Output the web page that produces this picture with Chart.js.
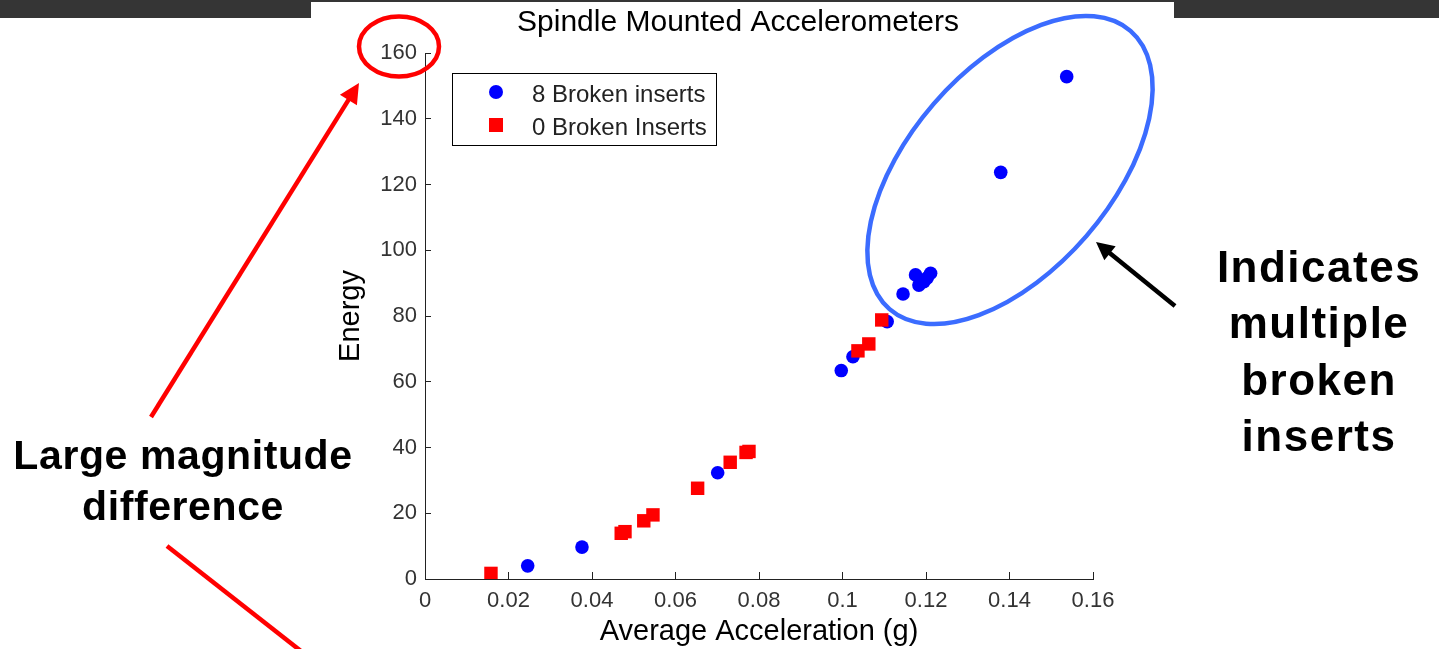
<!DOCTYPE html>
<html>
<head>
<meta charset="utf-8">
<script src="https://cdn.jsdelivr.net/npm/chart.js@4.4.0/dist/chart.umd.min.js"></script>
<style>
html, body { margin: 0; padding: 0; background: #fff; }
#wrap { position: relative; width: 1439px; height: 649px; }
</style>
</head>
<body>
<div id="wrap"><canvas id="myChart" width="1439" height="649"></canvas></div>
<script>
var FONT = "'Liberation Sans', Arial, Helvetica, sans-serif";

// 8 broken inserts (blue dots)
var brokenX = [0.0246, 0.0376, 0.0701, 0.0997, 0.1025, 0.1107, 0.1145, 0.1175, 0.1183, 0.1195, 0.1203, 0.1211, 0.1379, 0.1537];
var brokenY = [4.0, 9.7, 32.3, 63.4, 67.6, 78.3, 86.7, 92.5, 89.4, 90.4, 91.6, 93.0, 123.7, 152.8];

// 0 broken inserts (red squares)
var intactX = [0.0158, 0.0470, 0.0479, 0.0524, 0.0546, 0.0653, 0.0731, 0.0769, 0.0776, 0.1037, 0.1063, 0.1094];
var intactY = [1.7, 13.9, 14.4, 17.7, 19.5, 27.6, 35.5, 38.5, 38.8, 69.4, 71.5, 78.8];

var seriesNames = ["8 Broken inserts", "0 Broken Inserts"];
var xTicks = [0, 0.02, 0.04, 0.06, 0.08, 0.1, 0.12, 0.14, 0.16];
var yTicks = [0, 20, 40, 60, 80, 100, 120, 140, 160];

function toPoints(xs, ys) {
    return xs.map(function(x, i) { return { x: x, y: ys[i] }; });
}

function arrow(ctx, x1, y1, x2, y2, color, width, head) {
    var ang = Math.atan2(y2 - y1, x2 - x1);
    ctx.save();
    ctx.strokeStyle = color;
    ctx.fillStyle = color;
    ctx.lineWidth = width;
    ctx.beginPath();
    ctx.moveTo(x1, y1);
    ctx.lineTo(x2 - Math.cos(ang) * head * 0.8, y2 - Math.sin(ang) * head * 0.8);
    ctx.stroke();
    if (head > 0) {
        ctx.beginPath();
        ctx.moveTo(x2, y2);
        ctx.lineTo(x2 - head * Math.cos(ang) + head * 0.5 * Math.sin(ang), y2 - head * Math.sin(ang) - head * 0.5 * Math.cos(ang));
        ctx.lineTo(x2 - head * Math.cos(ang) - head * 0.5 * Math.sin(ang), y2 - head * Math.sin(ang) + head * 0.5 * Math.cos(ang));
        ctx.closePath();
        ctx.fill();
    }
    ctx.restore();
}

function centeredLines(ctx, lines, cx, baselines, size, spacing) {
    ctx.save();
    ctx.fillStyle = '#000';
    ctx.font = 'bold ' + size + 'px ' + FONT;
    ctx.textAlign = 'center';
    ctx.textBaseline = 'alphabetic';
    ctx.letterSpacing = spacing + 'px';
    lines.forEach(function(t, i) { ctx.fillText(t, cx, baselines[i]); });
    ctx.restore();
}

// slide background, title, legend and callouts
var slidePlugin = {
    id: 'slide',
    beforeDraw: function(chart) {
        var ctx = chart.ctx;
        ctx.save();
        ctx.fillStyle = '#353535';
        ctx.fillRect(0, 0, 1439, 2);
        ctx.fillRect(0, 0, 311, 18);
        ctx.fillRect(1174, 0, 265, 18);
        ctx.restore();
    },
    afterDraw: function(chart) {
        var ctx = chart.ctx;

        // title
        ctx.save();
        ctx.fillStyle = '#000';
        ctx.font = '30px ' + FONT;
        ctx.textAlign = 'center';
        ctx.textBaseline = 'alphabetic';
        ctx.fillText('Spindle Mounted Accelerometers', 738, 31);
        ctx.restore();

        // legend box
        var lx = 452, ly = 73, lw = 264, lh = 72;
        ctx.save();
        ctx.fillStyle = '#fff';
        ctx.fillRect(lx, ly, lw, lh);
        ctx.strokeStyle = '#000';
        ctx.lineWidth = 1;
        ctx.strokeRect(lx + 0.5, ly + 0.5, lw, lh);
        chart.data.datasets.forEach(function(ds, i) {
            var cy = 92 + i * 33;
            ctx.fillStyle = ds.backgroundColor;
            ctx.beginPath();
            if (ds.pointStyle === 'rect') {
                ctx.rect(496 - 7, cy - 7, 14, 14);
            } else {
                ctx.arc(496, cy, 7, 0, Math.PI * 2);
            }
            ctx.fill();
            ctx.fillStyle = '#222';
            ctx.font = '24px ' + FONT;
            ctx.textAlign = 'left';
            ctx.textBaseline = 'middle';
            ctx.fillText(ds.label, 532, cy + 3);
        });
        ctx.restore();

        // red ring round the top tick label
        ctx.save();
        ctx.strokeStyle = '#ff0000';
        ctx.lineWidth = 4.5;
        ctx.beginPath();
        ctx.ellipse(399, 46.5, 40, 30, 0, 0, Math.PI * 2);
        ctx.stroke();
        ctx.restore();

        // blue ellipse round the high-energy group
        ctx.save();
        ctx.strokeStyle = '#3b6cff';
        ctx.lineWidth = 4.5;
        ctx.beginPath();
        ctx.ellipse(1010, 170, 184, 101, -49.1 * Math.PI / 180, 0, Math.PI * 2);
        ctx.stroke();
        ctx.restore();

        // arrows
        arrow(ctx, 151, 417, 359, 83, '#ff0000', 4.5, 20);
        arrow(ctx, 167, 546, 320, 666, '#ff0000', 4.5, 0);
        arrow(ctx, 1175, 306, 1096, 242, '#000', 4.5, 18);

        centeredLines(ctx, ['Large magnitude', 'difference'], 183, [469, 520], 41, 0.6);
        centeredLines(ctx, ['Indicates', 'multiple', 'broken', 'inserts'], 1319, [282, 338, 395, 451], 44, 1.5);
    }
};

var ctx = document.getElementById("myChart");

var myScatter = new Chart(ctx, {
    type: 'scatter',
    data: {
        datasets: [
            {
                label: seriesNames[0],
                data: toPoints(brokenX, brokenY),
                pointStyle: 'circle',
                pointRadius: 6.8,
                pointBorderWidth: 0,
                backgroundColor: '#0000ff',
                borderColor: '#0000ff',
                order: 2
            },
            {
                label: seriesNames[1],
                data: toPoints(intactX, intactY),
                pointStyle: 'rect',
                pointRadius: 9.5,
                pointBorderWidth: 0,
                backgroundColor: '#ff0000',
                borderColor: '#ff0000',
                order: 1
            }
        ]
    },
    options: {
        responsive: false,
        animation: false,
        layout: { padding: { left: 330, right: 346, top: 53, bottom: 0 } },
        plugins: {
            legend: { display: false },
            title: { display: false },
            tooltip: { enabled: false }
        },
        scales: {
            x: {
                type: 'linear',
                position: 'bottom',
                min: 0,
                max: 0.16,
                afterBuildTicks: function(axis) {
                    axis.ticks = xTicks.map(function(v) { return { value: v }; });
                },
                afterFit: function(axis) { axis.height = 70; },
                grid: { drawOnChartArea: false, drawTicks: true, tickLength: -7, color: '#222', lineWidth: 1 },
                border: { display: true, color: '#222', width: 1 },
                ticks: {
                    padding: 16,
                    color: '#333',
                    font: { family: FONT, size: 22 },
                    callback: function(v) { return String(+Number(v).toFixed(2)); }
                },
                title: {
                    display: true,
                    text: 'Average Acceleration (g)',
                    color: '#000',
                    font: { family: FONT, size: 29 },
                    padding: { top: 0, bottom: 0 }
                }
            },
            y: {
                type: 'linear',
                position: 'left',
                min: 0,
                max: 160,
                afterBuildTicks: function(axis) {
                    axis.ticks = yTicks.map(function(v) { return { value: v }; });
                },
                afterFit: function(axis) { axis.width = 95; },
                grid: { drawOnChartArea: false, drawTicks: true, tickLength: -6, color: '#222', lineWidth: 1 },
                border: { display: true, color: '#222', width: 1 },
                ticks: {
                    padding: 14,
                    color: '#333',
                    font: { family: FONT, size: 22 },
                    callback: function(v) { return String(v); }
                },
                title: {
                    display: true,
                    text: 'Energy',
                    color: '#000',
                    font: { family: FONT, size: 29 },
                    padding: { top: 4, bottom: 0 }
                }
            }
        }
    },
    plugins: [slidePlugin]
});
</script>
</body>
</html>
